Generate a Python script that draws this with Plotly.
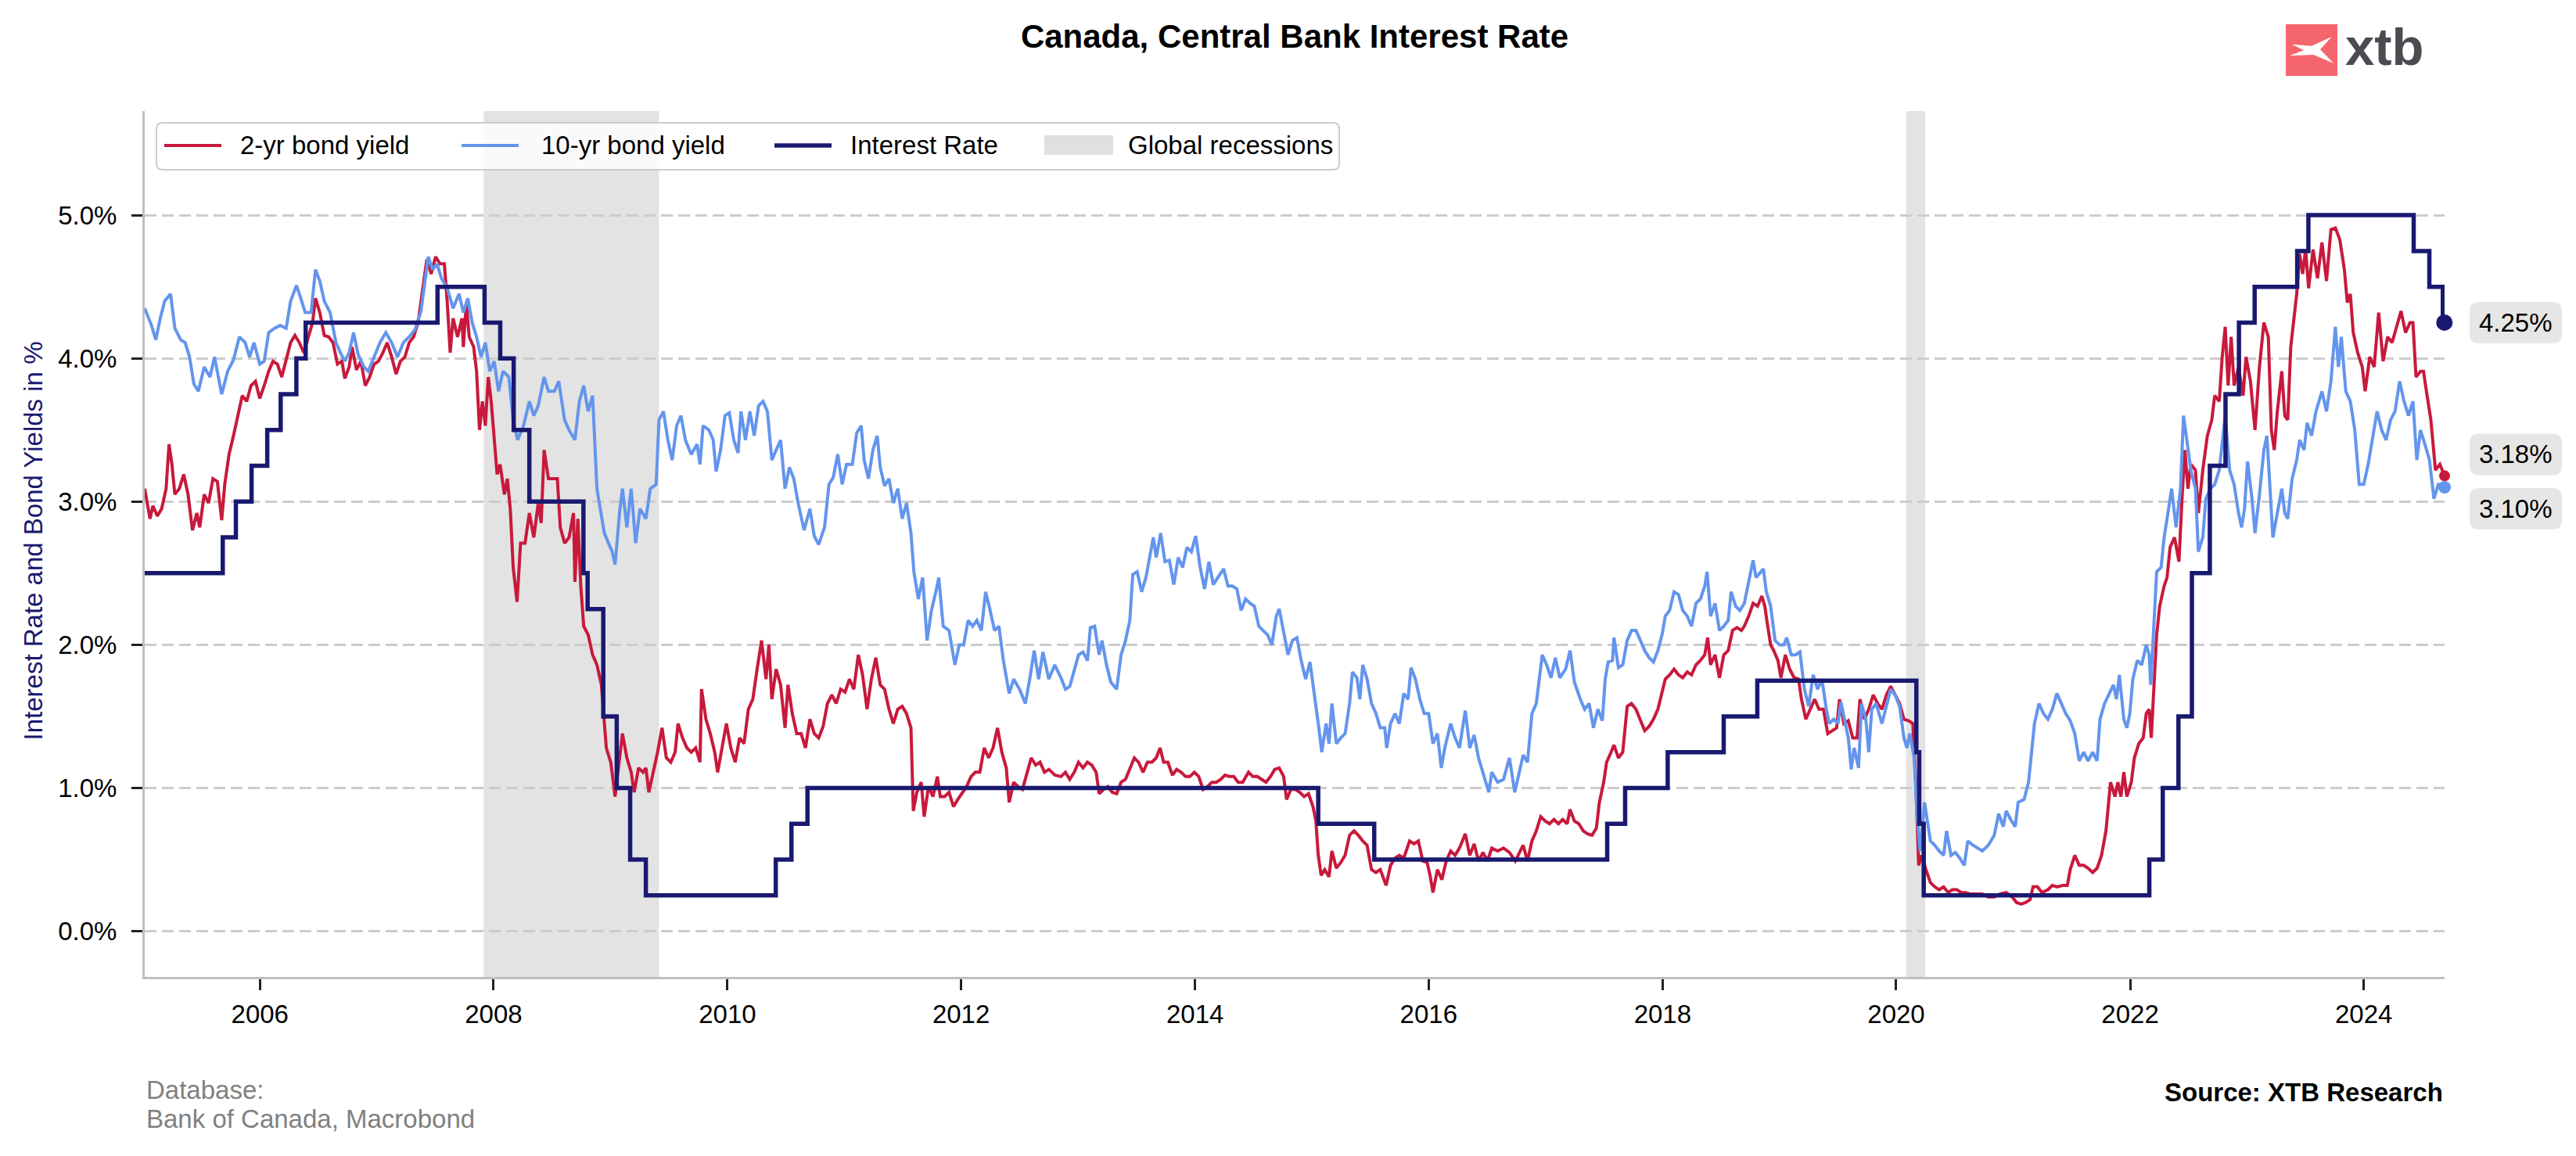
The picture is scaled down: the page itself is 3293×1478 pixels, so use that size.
import pandas as pd
import plotly.graph_objects as go

# ---------------------------------------------------------------- data
# 2-year Government of Canada bond yield (%), time as decimal year
two_yr_t = [
    2005.014, 2005.059, 2005.084, 2005.122, 2005.159, 2005.197, 2005.222, 2005.247, 2005.272, 2005.310,
    2005.348, 2005.385, 2005.423, 2005.460, 2005.485, 2005.523, 2005.561, 2005.598, 2005.636, 2005.673,
    2005.699, 2005.736, 2005.774, 2005.811, 2005.849, 2005.887, 2005.924, 2005.962, 2005.999, 2006.037,
    2006.075, 2006.112, 2006.150, 2006.187, 2006.225, 2006.263, 2006.300, 2006.338, 2006.376, 2006.413,
    2006.451, 2006.476, 2006.513, 2006.551, 2006.589, 2006.626, 2006.664, 2006.702, 2006.727, 2006.764,
    2006.789, 2006.827, 2006.865, 2006.902, 2006.940, 2006.977, 2007.015, 2007.053, 2007.090, 2007.128,
    2007.166, 2007.203, 2007.241, 2007.278, 2007.316, 2007.354, 2007.391, 2007.429, 2007.466, 2007.504,
    2007.542, 2007.579, 2007.604, 2007.629, 2007.654, 2007.692, 2007.730, 2007.742, 2007.767, 2007.792,
    2007.830, 2007.855, 2007.880, 2007.905, 2007.930, 2007.955, 2007.980, 2008.006, 2008.031, 2008.056,
    2008.093, 2008.118, 2008.143, 2008.168, 2008.201, 2008.231, 2008.269, 2008.306, 2008.344, 2008.382,
    2008.407, 2008.432, 2008.469, 2008.507, 2008.545, 2008.570, 2008.607, 2008.645, 2008.683, 2008.695,
    2008.720, 2008.745, 2008.770, 2008.808, 2008.846, 2008.883, 2008.921,
    2008.963, 2009.001, 2009.038, 2009.076, 2009.101, 2009.139, 2009.176, 2009.201, 2009.239, 2009.277,
    2009.302, 2009.327, 2009.364, 2009.402, 2009.440, 2009.477, 2009.515, 2009.552, 2009.577, 2009.615,
    2009.653, 2009.690, 2009.728, 2009.765, 2009.778, 2009.816, 2009.853, 2009.891, 2009.916, 2009.954,
    2009.991, 2010.029, 2010.066, 2010.104, 2010.142, 2010.179, 2010.217, 2010.254, 2010.292, 2010.330,
    2010.355, 2010.380, 2010.417, 2010.455, 2010.493, 2010.518, 2010.555, 2010.593, 2010.631, 2010.668,
    2010.706, 2010.743, 2010.781, 2010.819, 2010.856, 2010.894, 2010.931, 2010.969, 2011.007, 2011.044,
    2011.082, 2011.120, 2011.157, 2011.195, 2011.232, 2011.270, 2011.308, 2011.345, 2011.383, 2011.420,
    2011.458, 2011.496, 2011.533, 2011.571, 2011.591, 2011.621, 2011.659, 2011.684, 2011.721, 2011.759,
    2011.797, 2011.822, 2011.859, 2011.897, 2011.935, 2011.972, 2012.010, 2012.047, 2012.085, 2012.122,
    2012.160, 2012.198, 2012.235, 2012.273, 2012.311, 2012.348, 2012.386, 2012.411, 2012.449, 2012.486,
    2012.524, 2012.562, 2012.599, 2012.637, 2012.674, 2012.712, 2012.750, 2012.800,
    2012.853, 2012.891, 2012.928, 2012.966, 2013.003, 2013.041, 2013.079, 2013.116, 2013.154, 2013.179,
    2013.217, 2013.254, 2013.292, 2013.329, 2013.367, 2013.405, 2013.442, 2013.480, 2013.517, 2013.555,
    2013.593, 2013.630, 2013.668, 2013.701, 2013.731, 2013.768, 2013.806, 2013.843, 2013.881, 2013.919,
    2013.956, 2013.994, 2014.032, 2014.069, 2014.107, 2014.144, 2014.182, 2014.220, 2014.257, 2014.295,
    2014.332, 2014.370, 2014.408, 2014.458, 2014.495, 2014.533, 2014.571, 2014.608, 2014.646, 2014.683,
    2014.721, 2014.759, 2014.784, 2014.821, 2014.859, 2014.897, 2014.934, 2014.972, 2015.010, 2015.035,
    2015.055, 2015.080, 2015.110, 2015.147, 2015.172, 2015.210, 2015.248, 2015.285, 2015.323, 2015.361,
    2015.398, 2015.436, 2015.473, 2015.511, 2015.549, 2015.586, 2015.636, 2015.674, 2015.712, 2015.749,
    2015.787, 2015.837, 2015.875, 2015.912, 2015.950, 2015.987, 2016.012, 2016.037, 2016.075, 2016.113,
    2016.150, 2016.188, 2016.226, 2016.263, 2016.313, 2016.351, 2016.389, 2016.426, 2016.464, 2016.502,
    2016.539, 2016.589, 2016.639, 2016.690, 2016.740,
    2016.807, 2016.844, 2016.882, 2016.919, 2016.957, 2016.995, 2017.032, 2017.070, 2017.108, 2017.145,
    2017.183, 2017.208, 2017.245, 2017.283, 2017.321, 2017.358, 2017.396, 2017.433, 2017.459, 2017.496,
    2017.521, 2017.559, 2017.584, 2017.622, 2017.659, 2017.697, 2017.734, 2017.772, 2017.810, 2017.847,
    2017.885, 2017.922, 2017.960, 2017.998, 2018.023, 2018.060, 2018.098, 2018.136, 2018.173, 2018.211,
    2018.248, 2018.286, 2018.324, 2018.361, 2018.386, 2018.411, 2018.449, 2018.487, 2018.524, 2018.562,
    2018.599, 2018.637, 2018.675, 2018.700, 2018.737, 2018.775, 2018.813, 2018.850, 2018.875, 2018.900,
    2018.925, 2018.951, 2018.988, 2019.013, 2019.051, 2019.088, 2019.126, 2019.164, 2019.189, 2019.226,
    2019.264, 2019.302, 2019.339, 2019.377, 2019.414, 2019.452, 2019.490, 2019.515, 2019.552, 2019.590,
    2019.628, 2019.665, 2019.690, 2019.728, 2019.765, 2019.803, 2019.841, 2019.878, 2019.916, 2019.953,
    2019.991, 2020.029, 2020.066, 2020.104, 2020.142, 2020.167, 2020.192, 2020.217, 2020.254, 2020.292,
    2020.330, 2020.367, 2020.405, 2020.443, 2020.480, 2020.518, 2020.556, 2020.593, 2020.631,
    2020.684, 2020.735, 2020.786, 2020.837, 2020.888, 2020.939, 2020.990, 2021.028, 2021.067, 2021.105,
    2021.143, 2021.169, 2021.207, 2021.245, 2021.296, 2021.334, 2021.373, 2021.424, 2021.462, 2021.487,
    2021.526, 2021.564, 2021.602, 2021.640, 2021.679, 2021.717, 2021.755, 2021.793, 2021.832, 2021.870,
    2021.895, 2021.921, 2021.946, 2021.972, 2022.010, 2022.036, 2022.074, 2022.112, 2022.138, 2022.163,
    2022.181, 2022.207, 2022.227, 2022.253, 2022.291, 2022.316, 2022.342, 2022.380, 2022.418, 2022.444,
    2022.469, 2022.495, 2022.520, 2022.559, 2022.584, 2022.622, 2022.661, 2022.699, 2022.724, 2022.763,
    2022.788, 2022.814, 2022.839, 2022.865, 2022.890, 2022.928, 2022.967, 2022.992, 2023.030, 2023.069,
    2023.107, 2023.145, 2023.183, 2023.209, 2023.234, 2023.260, 2023.298, 2023.324, 2023.349, 2023.375,
    2023.400, 2023.426, 2023.451, 2023.477, 2023.502, 2023.528, 2023.566, 2023.604, 2023.642, 2023.681,
    2023.719, 2023.757, 2023.795, 2023.834, 2023.859, 2023.885, 2023.910, 2023.948, 2023.987, 2024.012,
    2024.051, 2024.089, 2024.127, 2024.165, 2024.204, 2024.242, 2024.280, 2024.318, 2024.357, 2024.395,
    2024.420, 2024.446, 2024.484, 2024.510, 2024.535, 2024.573, 2024.612, 2024.650, 2024.690,
]
two_yr_v = [
    3.09, 2.88, 2.97, 2.90, 2.95, 3.09, 3.40, 3.26, 3.05, 3.09,
    3.19, 3.05, 2.80, 2.92, 2.82, 3.05, 2.99, 3.16, 3.14, 2.87,
    3.12, 3.33, 3.46, 3.60, 3.74, 3.70, 3.81, 3.84, 3.72, 3.81,
    3.91, 3.98, 3.96, 3.87, 3.98, 4.11, 4.16, 4.11, 4.04, 4.15,
    4.25, 4.42, 4.32, 4.16, 4.15, 4.11, 3.96, 3.98, 3.86, 3.94,
    4.08, 3.92, 3.98, 3.81, 3.87, 3.96, 3.98, 4.04, 4.11, 4.01,
    3.89, 3.98, 4.01, 4.11, 4.15, 4.25, 4.47, 4.69, 4.59, 4.71,
    4.66, 4.66, 4.39, 4.04, 4.28, 4.15, 4.28, 4.08, 4.39, 4.15,
    4.08, 3.91, 3.50, 3.70, 3.53, 3.87, 3.70, 3.46, 3.19, 3.26,
    3.05, 3.16, 2.95, 2.54, 2.30, 2.71, 2.71, 2.92, 2.75, 2.99,
    2.85, 3.36, 3.16, 3.16, 3.16, 2.82, 2.71, 2.75, 2.92, 2.44,
    2.88, 2.41, 2.13, 2.07, 1.93, 1.86, 1.72,
    1.28, 1.18, 0.94, 1.21, 1.38, 1.21, 1.11, 0.97, 1.14, 1.11,
    1.14, 0.97, 1.11, 1.25, 1.42, 1.21, 1.18, 1.25, 1.45, 1.35,
    1.28, 1.25, 1.28, 1.18, 1.69, 1.48, 1.38, 1.25, 1.11, 1.28,
    1.45, 1.28, 1.18, 1.35, 1.31, 1.55, 1.62, 1.83, 2.03, 1.76,
    2.00, 1.62, 1.83, 1.72, 1.42, 1.72, 1.52, 1.38, 1.38, 1.28,
    1.48, 1.38, 1.35, 1.43, 1.59, 1.65, 1.59, 1.69, 1.67, 1.76,
    1.69, 1.93, 1.79, 1.55, 1.76, 1.91, 1.72, 1.69, 1.55, 1.45,
    1.55, 1.57, 1.52, 1.42, 0.84, 0.97, 1.04, 0.80, 1.01, 0.94,
    1.08, 0.94, 0.94, 0.97, 0.87, 0.92, 0.97, 1.01, 1.08, 1.11,
    1.11, 1.28, 1.21, 1.28, 1.42, 1.25, 1.14, 0.90, 1.04, 1.01,
    0.99, 1.11, 1.21, 1.16, 1.18, 1.11, 1.13, 1.09,
    1.08, 1.11, 1.06, 1.11, 1.18, 1.14, 1.18, 1.16, 1.11, 0.96,
    0.99, 1.01, 0.97, 0.96, 1.04, 1.06, 1.14, 1.21, 1.18, 1.11,
    1.18, 1.18, 1.21, 1.28, 1.18, 1.18, 1.09, 1.13, 1.11, 1.08,
    1.08, 1.11, 1.08, 0.99, 1.01, 1.04, 1.04, 1.06, 1.09, 1.08,
    1.08, 1.04, 1.04, 1.11, 1.08, 1.08, 1.06, 1.04, 1.08, 1.13,
    1.14, 1.08, 0.92, 0.99, 0.99, 0.97, 0.94, 0.96, 0.87, 0.77,
    0.53, 0.39, 0.43, 0.38, 0.56, 0.44, 0.48, 0.53, 0.67, 0.70,
    0.67, 0.63, 0.60, 0.43, 0.41, 0.43, 0.32, 0.46, 0.51, 0.53,
    0.51, 0.63, 0.61, 0.63, 0.49, 0.48, 0.39, 0.27, 0.43, 0.36,
    0.49, 0.56, 0.53, 0.58, 0.68, 0.53, 0.61, 0.49, 0.55, 0.49,
    0.58, 0.56, 0.58, 0.55, 0.49,
    0.60, 0.49, 0.63, 0.70, 0.80, 0.77, 0.75, 0.78, 0.75, 0.78,
    0.75, 0.85, 0.77, 0.75, 0.70, 0.68, 0.67, 0.72, 0.90, 1.04,
    1.18, 1.25, 1.30, 1.21, 1.25, 1.57, 1.59, 1.55, 1.48, 1.40,
    1.43, 1.48, 1.55, 1.69, 1.76, 1.79, 1.83, 1.79, 1.77, 1.81,
    1.79, 1.86, 1.89, 1.93, 2.05, 1.86, 1.93, 1.77, 1.93, 1.96,
    2.10, 2.12, 2.10, 2.13, 2.20, 2.29, 2.27, 2.34, 2.27, 2.13,
    2.00, 1.96, 1.89, 1.77, 1.93, 1.83, 1.77, 1.76, 1.62, 1.48,
    1.55, 1.62, 1.55, 1.55, 1.38, 1.40, 1.42, 1.62, 1.45, 1.47,
    1.35, 1.35, 1.62, 1.48, 1.55, 1.65, 1.59, 1.55, 1.65, 1.71,
    1.65, 1.59, 1.48, 1.47, 1.45, 1.04, 0.46, 0.53, 0.43, 0.34,
    0.31, 0.29, 0.31, 0.27, 0.29, 0.29, 0.27, 0.27, 0.26,
    0.26, 0.26, 0.24, 0.24, 0.26, 0.27, 0.24, 0.20, 0.19, 0.20,
    0.22, 0.31, 0.31, 0.27, 0.29, 0.32, 0.31, 0.32, 0.32, 0.43,
    0.53, 0.46, 0.46, 0.44, 0.41, 0.44, 0.53, 0.70, 1.04, 0.94,
    1.04, 0.94, 1.11, 0.94, 1.04, 1.21, 1.31, 1.35, 1.52, 1.55,
    1.35, 1.72, 2.07, 2.27, 2.41, 2.47, 2.68, 2.75, 2.58, 3.02,
    3.36, 3.09, 3.26, 3.22, 2.92, 3.22, 3.46, 3.57, 3.74, 3.70,
    4.01, 4.22, 3.81, 4.15, 3.81, 3.94, 3.74, 4.01, 3.84, 3.50,
    3.94, 4.25, 4.15, 3.50, 3.36, 3.63, 3.91, 3.60, 3.57, 4.08,
    4.28, 4.45, 4.73, 4.59, 4.76, 4.49, 4.76, 4.56, 4.81, 4.54,
    4.90, 4.91, 4.83, 4.62, 4.39, 4.45, 4.18, 4.04, 3.94, 3.77,
    4.01, 3.94, 4.32, 3.98, 4.15, 4.11, 4.22, 4.33, 4.18, 4.25,
    4.25, 3.87, 3.91, 3.91, 3.77, 3.57, 3.22, 3.26, 3.18,
]

# 10-year Government of Canada bond yield (%), time as decimal year
ten_yr_t = [
    2005.014, 2005.072, 2005.109, 2005.147, 2005.185, 2005.235, 2005.272, 2005.322, 2005.360, 2005.398,
    2005.435, 2005.473, 2005.523, 2005.573, 2005.611, 2005.648, 2005.673, 2005.724, 2005.774, 2005.824,
    2005.874, 2005.912, 2005.949, 2005.999, 2006.037, 2006.075, 2006.125, 2006.175, 2006.225, 2006.263,
    2006.313, 2006.350, 2006.388, 2006.438, 2006.476, 2006.513, 2006.551, 2006.601, 2006.651, 2006.689,
    2006.727, 2006.764, 2006.802, 2006.840, 2006.890, 2006.927, 2006.977, 2007.028, 2007.078, 2007.128,
    2007.178, 2007.228, 2007.278, 2007.328, 2007.379, 2007.404, 2007.441, 2007.479, 2007.516, 2007.554,
    2007.604, 2007.654, 2007.705, 2007.742, 2007.780, 2007.817, 2007.855, 2007.893, 2007.930, 2007.968,
    2008.006, 2008.043, 2008.081, 2008.131, 2008.168, 2008.206, 2008.256, 2008.306, 2008.344, 2008.382,
    2008.432, 2008.469, 2008.520, 2008.557, 2008.607, 2008.645, 2008.695, 2008.733, 2008.770, 2008.808,
    2008.846, 2008.883, 2008.946,
    2009.013, 2009.038, 2009.076, 2009.101, 2009.139, 2009.176, 2009.214, 2009.251, 2009.302, 2009.339,
    2009.389, 2009.414, 2009.452, 2009.490, 2009.527, 2009.565, 2009.602, 2009.640, 2009.690, 2009.740,
    2009.765, 2009.791, 2009.841, 2009.878, 2009.903, 2009.941, 2009.979, 2010.016, 2010.054, 2010.091,
    2010.116, 2010.154, 2010.192, 2010.229, 2010.267, 2010.305, 2010.342, 2010.380, 2010.417, 2010.455,
    2010.493, 2010.530, 2010.568, 2010.605, 2010.656, 2010.706, 2010.743, 2010.781, 2010.831, 2010.869,
    2010.906, 2010.944, 2010.982, 2011.019, 2011.069, 2011.107, 2011.145, 2011.170, 2011.207, 2011.245,
    2011.282, 2011.308, 2011.345, 2011.383, 2011.420, 2011.458, 2011.496, 2011.533, 2011.571, 2011.596,
    2011.634, 2011.671, 2011.709, 2011.746, 2011.784, 2011.809, 2011.847, 2011.897, 2011.947, 2011.985,
    2012.022, 2012.060, 2012.098, 2012.135, 2012.173, 2012.210, 2012.248, 2012.286, 2012.323, 2012.361,
    2012.411, 2012.449, 2012.499, 2012.549, 2012.586, 2012.624, 2012.662, 2012.699, 2012.749, 2012.800,
    2012.853, 2012.891, 2012.928, 2012.966, 2013.003, 2013.041, 2013.079, 2013.104, 2013.141, 2013.179,
    2013.204, 2013.242, 2013.279, 2013.329, 2013.367, 2013.405, 2013.442, 2013.467, 2013.505, 2013.543,
    2013.580, 2013.605, 2013.643, 2013.668, 2013.706, 2013.743, 2013.781, 2013.818, 2013.856, 2013.894,
    2013.931, 2013.969, 2014.006, 2014.044, 2014.082, 2014.119, 2014.157, 2014.195, 2014.245, 2014.282,
    2014.320, 2014.358, 2014.395, 2014.433, 2014.470, 2014.508, 2014.546, 2014.583, 2014.621, 2014.658,
    2014.696, 2014.721, 2014.759, 2014.796, 2014.834, 2014.872, 2014.909, 2014.947, 2014.984, 2015.022,
    2015.060, 2015.085, 2015.122, 2015.147, 2015.172, 2015.210, 2015.248, 2015.285, 2015.323, 2015.348,
    2015.386, 2015.411, 2015.436, 2015.473, 2015.511, 2015.549, 2015.586, 2015.624, 2015.641, 2015.674,
    2015.712, 2015.749, 2015.787, 2015.824, 2015.849, 2015.887, 2015.925, 2015.962, 2016.000, 2016.037,
    2016.075, 2016.108, 2016.138, 2016.188, 2016.226, 2016.263, 2016.313, 2016.351, 2016.389, 2016.426,
    2016.464, 2016.514, 2016.539, 2016.589, 2016.639, 2016.690, 2016.735,
    2016.807, 2016.844, 2016.882, 2016.919, 2016.945, 2016.970, 2017.007, 2017.045, 2017.082, 2017.120,
    2017.170, 2017.208, 2017.245, 2017.296, 2017.333, 2017.371, 2017.408, 2017.446, 2017.484, 2017.509,
    2017.534, 2017.571, 2017.584, 2017.622, 2017.659, 2017.697, 2017.734, 2017.772, 2017.810, 2017.847,
    2017.885, 2017.922, 2017.960, 2017.998, 2018.023, 2018.060, 2018.098, 2018.136, 2018.173, 2018.211,
    2018.248, 2018.286, 2018.324, 2018.361, 2018.381, 2018.411, 2018.449, 2018.487, 2018.524, 2018.562,
    2018.587, 2018.625, 2018.662, 2018.700, 2018.737, 2018.775, 2018.800, 2018.838, 2018.863, 2018.888,
    2018.925, 2018.963, 2019.001, 2019.038, 2019.063, 2019.101, 2019.139, 2019.176, 2019.214, 2019.251,
    2019.289, 2019.327, 2019.364, 2019.402, 2019.427, 2019.465, 2019.502, 2019.527, 2019.565, 2019.590,
    2019.615, 2019.640, 2019.678, 2019.703, 2019.740, 2019.765, 2019.791, 2019.828, 2019.878, 2019.916,
    2019.953, 2019.991, 2020.029, 2020.066, 2020.091, 2020.116, 2020.154, 2020.179, 2020.204, 2020.242,
    2020.267, 2020.292, 2020.330, 2020.367, 2020.405, 2020.430, 2020.468, 2020.505, 2020.543, 2020.581,
    2020.611, 2020.656,
    2020.735, 2020.786, 2020.837, 2020.875, 2020.914, 2020.939, 2020.977, 2021.016, 2021.041, 2021.092,
    2021.130, 2021.156, 2021.181, 2021.220, 2021.258, 2021.296, 2021.334, 2021.373, 2021.411, 2021.449,
    2021.487, 2021.526, 2021.564, 2021.602, 2021.640, 2021.679, 2021.717, 2021.742, 2021.781, 2021.819,
    2021.857, 2021.883, 2021.908, 2021.946, 2021.972, 2021.997, 2022.023, 2022.061, 2022.099, 2022.138,
    2022.163, 2022.176, 2022.201, 2022.227, 2022.265, 2022.291, 2022.316, 2022.355, 2022.393, 2022.431,
    2022.457, 2022.495, 2022.520, 2022.559, 2022.584, 2022.622, 2022.648, 2022.686, 2022.724, 2022.763,
    2022.788, 2022.814, 2022.852, 2022.890, 2022.928, 2022.954, 2022.979, 2023.005, 2023.043, 2023.069,
    2023.107, 2023.145, 2023.171, 2023.196, 2023.222, 2023.260, 2023.298, 2023.324, 2023.349, 2023.387,
    2023.426, 2023.451, 2023.489, 2023.515, 2023.553, 2023.591, 2023.642, 2023.681, 2023.719, 2023.757,
    2023.783, 2023.808, 2023.846, 2023.885, 2023.923, 2023.961, 2024.000, 2024.038, 2024.076, 2024.114,
    2024.153, 2024.191, 2024.229, 2024.267, 2024.306, 2024.344, 2024.382, 2024.420, 2024.453, 2024.484,
    2024.522, 2024.561, 2024.599, 2024.637, 2024.690,
]
ten_yr_v = [
    4.35, 4.23, 4.13, 4.28, 4.40, 4.45, 4.21, 4.13, 4.11, 4.01,
    3.82, 3.77, 3.94, 3.87, 4.01, 3.87, 3.75, 3.91, 3.99, 4.15,
    4.11, 4.01, 4.11, 3.96, 3.98, 4.18, 4.21, 4.23, 4.21, 4.40,
    4.51, 4.42, 4.32, 4.32, 4.62, 4.54, 4.40, 4.32, 4.11, 4.04,
    3.98, 4.04, 4.18, 4.03, 3.94, 3.91, 4.01, 4.11, 4.18, 4.11,
    4.01, 4.11, 4.15, 4.20, 4.33, 4.49, 4.71, 4.62, 4.66, 4.56,
    4.49, 4.35, 4.45, 4.32, 4.42, 4.25, 4.15, 4.01, 4.11, 3.91,
    3.98, 3.77, 3.91, 3.87, 3.57, 3.43, 3.53, 3.70, 3.60, 3.67,
    3.87, 3.77, 3.77, 3.84, 3.57, 3.50, 3.43, 3.70, 3.81, 3.63,
    3.74, 3.09, 2.78,
    2.65, 2.56, 2.92, 3.09, 2.82, 3.09, 2.71, 2.95, 2.88, 3.09,
    3.12, 3.57, 3.63, 3.43, 3.29, 3.53, 3.60, 3.43, 3.33, 3.40,
    3.26, 3.53, 3.50, 3.43, 3.21, 3.36, 3.60, 3.62, 3.43, 3.34,
    3.63, 3.43, 3.63, 3.46, 3.67, 3.70, 3.63, 3.29, 3.36, 3.43,
    3.09, 3.24, 3.16, 2.99, 2.80, 2.95, 2.76, 2.70, 2.82, 3.12,
    3.17, 3.33, 3.12, 3.26, 3.26, 3.48, 3.53, 3.29, 3.16, 3.36,
    3.46, 3.24, 3.11, 3.16, 2.99, 3.09, 2.88, 2.99, 2.78, 2.51,
    2.32, 2.47, 2.03, 2.24, 2.37, 2.47, 2.13, 2.10, 1.86, 2.00,
    2.00, 2.17, 2.13, 2.17, 2.10, 2.37, 2.24, 2.10, 2.13, 1.89,
    1.66, 1.76, 1.69, 1.59, 1.76, 1.96, 1.76, 1.95, 1.76, 1.86,
    1.77, 1.69, 1.71, 1.83, 1.93, 1.95, 1.89, 2.12, 2.13, 1.93,
    2.03, 1.86, 1.74, 1.69, 1.93, 2.03, 2.17, 2.49, 2.51, 2.37,
    2.47, 2.58, 2.75, 2.61, 2.78, 2.58, 2.59, 2.42, 2.61, 2.54,
    2.68, 2.65, 2.76, 2.54, 2.39, 2.58, 2.42, 2.47, 2.53, 2.41,
    2.41, 2.39, 2.24, 2.32, 2.29, 2.27, 2.13, 2.10, 2.07, 2.00,
    2.20, 2.25, 2.10, 1.93, 2.03, 2.05, 1.89, 1.76, 1.88, 1.66,
    1.42, 1.25, 1.45, 1.31, 1.59, 1.31, 1.35, 1.38, 1.59, 1.81,
    1.77, 1.62, 1.86, 1.76, 1.59, 1.52, 1.42, 1.42, 1.28, 1.45,
    1.52, 1.45, 1.66, 1.62, 1.84, 1.76, 1.62, 1.52, 1.52, 1.31,
    1.38, 1.14, 1.28, 1.45, 1.35, 1.28, 1.54, 1.28, 1.37, 1.21,
    1.11, 0.97, 1.11, 1.04, 1.06, 1.21, 0.97,
    1.23, 1.18, 1.52, 1.59, 1.76, 1.93, 1.86, 1.77, 1.91, 1.77,
    1.83, 1.96, 1.74, 1.62, 1.55, 1.59, 1.42, 1.55, 1.47, 1.76,
    1.88, 1.89, 2.05, 1.84, 1.86, 2.03, 2.10, 2.10, 2.03, 1.96,
    1.91, 1.88, 1.96, 2.08, 2.20, 2.24, 2.37, 2.35, 2.24, 2.20,
    2.13, 2.29, 2.32, 2.41, 2.51, 2.20, 2.29, 2.10, 2.13, 2.17,
    2.37, 2.27, 2.24, 2.29, 2.44, 2.59, 2.47, 2.51, 2.53, 2.37,
    2.27, 2.03, 2.00, 2.00, 2.05, 1.93, 1.93, 1.95, 1.69, 1.57,
    1.79, 1.69, 1.76, 1.55, 1.45, 1.48, 1.45, 1.60, 1.45, 1.35,
    1.13, 1.28, 1.14, 1.59, 1.48, 1.25, 1.55, 1.59, 1.45, 1.57,
    1.69, 1.65, 1.57, 1.35, 1.28, 1.38, 1.21, 0.80, 0.56, 0.90,
    0.77, 0.63, 0.60, 0.56, 0.53, 0.70, 0.53, 0.55, 0.51, 0.46,
    0.63, 0.60,
    0.56, 0.60, 0.67, 0.82, 0.73, 0.84, 0.78, 0.73, 0.90, 0.92,
    1.04, 1.25, 1.45, 1.59, 1.52, 1.48, 1.55, 1.66, 1.59, 1.52,
    1.47, 1.38, 1.19, 1.25, 1.19, 1.25, 1.19, 1.48, 1.59, 1.66,
    1.72, 1.62, 1.79, 1.48, 1.42, 1.52, 1.76, 1.89, 1.86, 2.00,
    1.93, 1.72, 2.13, 2.51, 2.54, 2.75, 2.88, 3.09, 2.82, 3.09,
    3.60, 3.36, 3.22, 3.09, 2.65, 2.75, 3.02, 3.09, 3.12, 3.22,
    3.43, 3.60, 3.22, 3.12, 2.92, 2.82, 2.95, 3.28, 3.02, 2.78,
    3.05, 3.36, 3.46, 3.12, 2.75, 2.92, 3.09, 2.92, 2.88, 3.16,
    3.29, 3.43, 3.36, 3.55, 3.46, 3.63, 3.77, 3.63, 3.84, 4.22,
    3.94, 4.15, 3.77, 3.70, 3.50, 3.12, 3.12, 3.26, 3.46, 3.63,
    3.50, 3.43, 3.57, 3.63, 3.84, 3.70, 3.60, 3.70, 3.29, 3.50,
    3.40, 3.29, 3.02, 3.12, 3.10,
]

# Bank of Canada overnight rate target (%), effective dates of changes
rate_dates = [
    "2005-01-06", "2005-09-07", "2005-10-18", "2005-12-06", "2006-01-24", "2006-03-07",
    "2006-04-25", "2006-05-24", "2007-07-10", "2007-12-04", "2008-01-22", "2008-03-04",
    "2008-04-22", "2008-10-08", "2008-10-21", "2008-12-09", "2009-01-20", "2009-03-03",
    "2009-04-21", "2010-06-01", "2010-07-20", "2010-09-08", "2015-01-21", "2015-07-15",
    "2017-07-12", "2017-09-06", "2018-01-17", "2018-07-11", "2018-10-24", "2020-03-04",
    "2020-03-13", "2020-03-27", "2022-03-02", "2022-04-13", "2022-06-01", "2022-07-13",
    "2022-09-07", "2022-10-26", "2022-12-07", "2023-01-25", "2023-06-07", "2023-07-12",
    "2024-06-05", "2024-07-24", "2024-09-04", "2024-09-09",
]
rate_vals = [
    2.50, 2.75, 3.00, 3.25, 3.50, 3.75,
    4.00, 4.25, 4.50, 4.25, 4.00, 3.50,
    3.00, 2.50, 2.25, 1.50, 1.00, 0.50,
    0.25, 0.50, 0.75, 1.00, 0.75, 0.50,
    0.75, 1.00, 1.25, 1.50, 1.75, 1.25,
    0.75, 0.25, 0.50, 1.00, 1.50, 2.50,
    3.25, 3.75, 4.25, 4.50, 4.75, 5.00,
    4.75, 4.50, 4.25, 4.25,
]

recession_start = ["2007-12-01", "2020-02-01"]
recession_end = ["2009-06-01", "2020-04-01"]

y_ticks = [0, 1, 2, 3, 4, 5]
x_tick_years = [2006, 2008, 2010, 2012, 2014, 2016, 2018, 2020, 2022, 2024]
series_names = ["2-yr bond yield", "10-yr bond yield", "Interest Rate", "Global recessions"]

# ---------------------------------------------------------------- style
W, H = 3293, 1478
ML, MR, MT, MB = 185, 168, 142, 229
PW, PH = W - ML - MR, H - MT - MB
Y_MIN, Y_MAX = -0.319, 5.727
FONT = "Liberation Sans, Arial, Helvetica, sans-serif"
RED, BLUE, NAVY = "#C8193C", "#6495ED", "#191970"
REC = "#E3E3E3"
AXIS = "#BFBFBF"
FS = 33


def px_x(X):
    return (X - ML) / PW


def px_y(Y):
    return (H - MB - Y) / PH


def to_date(t):
    y = int(t)
    a = pd.Timestamp(year=y, month=1, day=1)
    b = pd.Timestamp(year=y + 1, month=1, day=1)
    return a + (b - a) * (t - y)


two_x = [to_date(t) for t in two_yr_t]
ten_x = [to_date(t) for t in ten_yr_t]
rate_x = pd.to_datetime(rate_dates)

fig = go.Figure()
fig.add_trace(go.Scatter(x=two_x, y=two_yr_v, mode="lines", name=series_names[0],
                         line=dict(color=RED, width=4)))
fig.add_trace(go.Scatter(x=ten_x, y=ten_yr_v, mode="lines", name=series_names[1],
                         line=dict(color=BLUE, width=4)))
fig.add_trace(go.Scatter(x=rate_x, y=rate_vals, mode="lines", name=series_names[2],
                         line=dict(color=NAVY, width=5.5, shape="hv")))
# end-point markers
fig.add_trace(go.Scatter(x=[two_x[-1]], y=[two_yr_v[-1]], mode="markers", cliponaxis=False,
                         marker=dict(color=RED, size=14), showlegend=False))
fig.add_trace(go.Scatter(x=[ten_x[-1]], y=[ten_yr_v[-1]], mode="markers", cliponaxis=False,
                         marker=dict(color=BLUE, size=16), showlegend=False))
fig.add_trace(go.Scatter(x=[rate_x[-1]], y=[rate_vals[-1]], mode="markers", cliponaxis=False,
                         marker=dict(color=NAVY, size=21), showlegend=False))

shapes = []
for s, e in zip(recession_start, recession_end):
    shapes.append(dict(type="rect", xref="x", yref="paper", x0=s, x1=e, y0=0, y1=1,
                       fillcolor=REC, line=dict(width=0), layer="below"))


def rounded_path(x0, x1, y0, y1, rx, ry):
    return (f"M{x0+rx},{y0} L{x1-rx},{y0} Q{x1},{y0} {x1},{y0+ry} L{x1},{y1-ry} "
            f"Q{x1},{y1} {x1-rx},{y1} L{x0+rx},{y1} Q{x0},{y1} {x0},{y1-ry} "
            f"L{x0},{y0+ry} Q{x0},{y0} {x0+rx},{y0} Z")


annotations = []

# value labels at the right end (label positions spread to avoid overlap)
end_values = [rate_vals[-1], two_yr_v[-1], ten_yr_v[-1]]
label_y = [4.25, 3.33, 2.95]
unit = PH / (Y_MAX - Y_MIN)
for v, ly in zip(end_values, label_y):
    hh = 26.5 / unit
    shapes.append(dict(type="path", xref="paper", yref="y",
                       path=rounded_path(px_x(3157), px_x(3275), ly - hh, ly + hh,
                                         12 / PW, 12 / unit),
                       fillcolor="#E6E6E4", line=dict(width=0), layer="above"))
    annotations.append(dict(xref="paper", yref="y", x=px_x(3216), y=ly, text=f"{v:.2f}%",
                            showarrow=False, xanchor="center", yanchor="middle",
                            font=dict(size=FS, color="black", family=FONT)))

# legend (drawn manually to match the original layout)
shapes.append(dict(type="path", xref="paper", yref="paper",
                   path=rounded_path(px_x(200), px_x(1712), px_y(217), px_y(157), 8 / PW, 8 / PH),
                   fillcolor="rgba(255,255,255,0.8)", line=dict(color="#CCCCCC", width=2),
                   layer="above"))
LEG_Y = 186
for x0, col, wdt in [(210, RED, 4), (590, BLUE, 4), (990, NAVY, 5.5)]:
    shapes.append(dict(type="line", xref="paper", yref="paper", x0=px_x(x0), x1=px_x(x0 + 73),
                       y0=px_y(LEG_Y), y1=px_y(LEG_Y), line=dict(color=col, width=wdt),
                       layer="above"))
shapes.append(dict(type="rect", xref="paper", yref="paper", x0=px_x(1335), x1=px_x(1423),
                   y0=px_y(198), y1=px_y(173), fillcolor="#E0E0E0", line=dict(width=0),
                   layer="above"))
for xt, name in zip([305, 690, 1085, 1440], series_names):
    annotations.append(dict(xref="paper", yref="paper", x=px_x(xt), y=px_y(LEG_Y), text=name,
                            showarrow=False, xanchor="left", yanchor="middle",
                            font=dict(size=FS, color="black", family=FONT)))

# y-axis title
annotations.append(dict(xref="paper", yref="paper", x=px_x(41.5), y=px_y(692),
                        text="Interest Rate and Bond Yields in %", textangle=-90,
                        showarrow=False, xanchor="center", yanchor="middle",
                        font=dict(size=FS, color=NAVY, family=FONT)))

# footer
annotations.append(dict(xref="paper", yref="paper", x=0, y=px_y(1393.5), text="Database:",
                        showarrow=False, xanchor="left", yanchor="middle",
                        font=dict(size=FS, color="#808080", family=FONT)))
annotations.append(dict(xref="paper", yref="paper", x=0, y=px_y(1430.5),
                        text="Bank of Canada, Macrobond", showarrow=False,
                        xanchor="left", yanchor="middle",
                        font=dict(size=FS, color="#808080", family=FONT)))
annotations.append(dict(xref="paper", yref="paper", x=px_x(3125), y=px_y(1396.5),
                        text="<b>Source: XTB Research</b>", showarrow=False,
                        xanchor="right", yanchor="middle",
                        font=dict(size=FS, color="black", family=FONT)))

# xtb logo
shapes.append(dict(type="rect", xref="paper", yref="paper", x0=px_x(2922), x1=px_x(2988),
                   y0=px_y(97), y1=px_y(31), fillcolor="#F5656E", line=dict(width=0)))
logo_pts = [(2930.0, 56.7), (2955.0, 58.7), (2980.7, 47.0), (2966.0, 63.3), (2983.3, 81.0),
            (2957.3, 70.0), (2926.7, 71.3), (2945.0, 64.3)]
logo_path = "M" + " L".join(f"{px_x(a)},{px_y(b)}" for a, b in logo_pts) + " Z"
shapes.append(dict(type="path", xref="paper", yref="paper", path=logo_path,
                   fillcolor="white", line=dict(width=0)))
annotations.append(dict(xref="paper", yref="paper", x=px_x(2996), y=px_y(60),
                        text="<b>xtb</b>", showarrow=False, xanchor="left", yanchor="middle",
                        font=dict(size=67, color="#4B4B51", family=FONT)))

fig.update_layout(
    width=W, height=H,
    margin=dict(l=ML, r=MR, t=MT, b=MB, pad=0, autoexpand=False),
    paper_bgcolor="white", plot_bgcolor="white",
    font=dict(family=FONT, size=FS, color="black"),
    showlegend=False,
    hovermode="x unified",
    title=dict(text="<b>Canada, Central Bank Interest Rate</b>", x=0.5, xref="paper",
               xanchor="center", y=1 - 46 / H, yref="container", yanchor="middle",
               font=dict(size=42, color="black", family=FONT)),
    xaxis=dict(type="date", range=[two_x[0], two_x[-1]], showgrid=False, zeroline=False,
               showline=True, linecolor=AXIS, linewidth=3, ticks="outside", ticklen=14,
               tickwidth=3, tickcolor="#222222", ticklabelstandoff=2,
               tickvals=[pd.Timestamp(year=y, month=1, day=1) for y in x_tick_years],
               ticktext=[str(y) for y in x_tick_years],
               tickfont=dict(size=FS, color="black", family=FONT)),
    yaxis=dict(range=[Y_MIN, Y_MAX], tickvals=y_ticks, ticktext=[f"{v:.1f}%" for v in y_ticks],
               showgrid=True, gridcolor="#CCCCCC", gridwidth=2.5, griddash="15px,7px",
               zeroline=False, showline=True, linecolor=AXIS, linewidth=3, ticks="outside",
               ticklen=14, tickwidth=3, tickcolor="#222222", ticklabelstandoff=12,
               tickfont=dict(size=FS, color="black", family=FONT)),
    shapes=shapes,
    annotations=annotations,
)

fig.write_html(
    "out.html",
    config={"displayModeBar": False},
    post_script="document.body.style.margin='0px';document.body.style.overflow='hidden';",
)
